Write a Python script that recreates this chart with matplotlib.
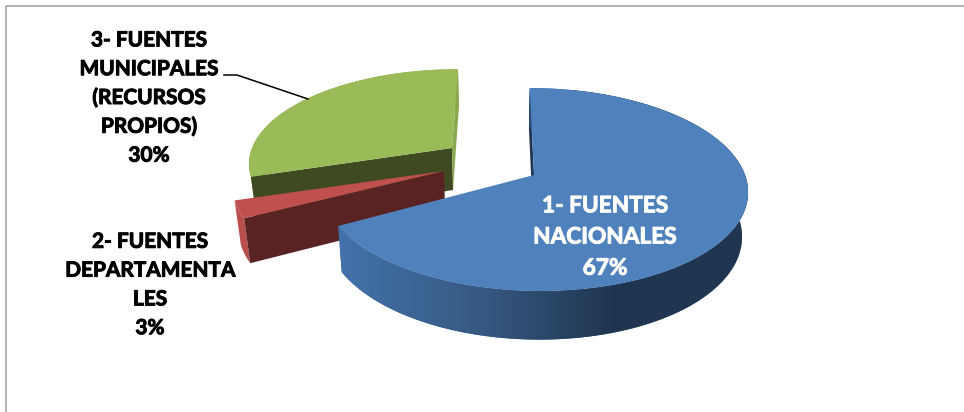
import numpy as np
import matplotlib.pyplot as plt
from matplotlib.colors import LinearSegmentedColormap
from matplotlib.patches import Polygon
import matplotlib.patheffects as pe

names = ["1- FUENTES\nNACIONALES", "2- FUENTES\nDEPARTAMENTA\nLES", "3- FUENTES\nMUNICIPALES\n(RECURSOS\nPROPIOS)"]
values = [67, 3, 30]

# layout of the exploded slices, pixels of the 964x412 image
apex_x = [534, 444, 452]
apex_y = [175, 171, 148]
rad_x = [211, 208, 200]
rad_y = [99.4, 92, 90]
depth = [44, 43, 42]
top_colors = ["#4F81BD", "#C0504D", "#9BBB59"]
wall_colors = ["#3f6ea3", "#b84f4d", "#8aa84f"]
cut_colors = ["#1f3552", "#5a2323", "#3f4a22"]
label_x = [605, 150, 149]
label_y = [237, 285, 98]
label_size = [16.3, 15, 15]
label_color = ["white", "black", "black"]
label_space = [1.6, 1.55, 1.55]

vanish_x = 495
k = 0.143


def rim(i, ang):
    u = np.sin(np.radians(ang))
    v = np.cos(np.radians(ang))
    s = 1 / (1 + k * v)
    x = vanish_x + (apex_x[i] - vanish_x + rad_x[i] * u) * s
    y = apex_y[i] - rad_y[i] * v * s
    return x, y


def lower(i, x, y):
    # same points, one pie thickness further down
    xb = x + 0.024 * (vanish_x - x)
    yb = y + depth[i] + 0.04 * (y - apex_y[i])
    return xb, yb


fig = plt.figure(figsize=(9.64, 4.12), dpi=100)
ax = fig.add_axes([0, 0, 1, 1])
ax.axis("off")

ax.plot([5.5, 5.5, 964], [412, 5.5, 5.5], color="#a3a3a3", lw=1.2)

edges = np.cumsum([0] + values) / sum(values) * 360 + 0.2
order = [2, 1, 0]

for i in order:
    ang = np.linspace(edges[i], edges[i + 1], 200)
    x, y = rim(i, ang)
    xb, yb = lower(i, x, y)
    ax0, ay0 = apex_x[i], apex_y[i]
    bx0, by0 = lower(i, np.array(ax0, dtype=float), np.array(ay0, dtype=float))

    wall = Polygon(np.c_[np.r_[x, xb[::-1]], np.r_[y, yb[::-1]]], closed=True,
                   fc=wall_colors[i], ec="none", zorder=2 + 3 * (2 - i))
    ax.add_patch(wall)
    ax.add_patch(Polygon([[x[0], y[0]], [ax0, ay0], [bx0, by0], [xb[0], yb[0]]],
                         fc=cut_colors[i], ec="none", zorder=wall.get_zorder()))
    if i == 0:
        # the front of the big slice fades to dark
        cmap = LinearSegmentedColormap.from_list("wall", ["#4272a9", "#375a84", "#203650", "#1f3550"])
        grad = np.linspace(0, 1, 256).reshape(1, -1)
        im = ax.imshow(grad, extent=[340, 750, 345, 90], cmap=cmap, aspect="auto", zorder=wall.get_zorder())
        im.set_clip_path(wall)
    if i == 2:
        ax.add_patch(Polygon([[x[-1], y[-1]], [ax0, ay0], [bx0, by0], [xb[-1], yb[-1]]],
                             fc=wall_colors[2], ec="none", zorder=wall.get_zorder()))

    ax.add_patch(Polygon(np.c_[np.r_[ax0, x], np.r_[ay0, y]], closed=True,
                         fc=top_colors[i], ec="none", zorder=3 + 3 * (2 - i)))

# leader line of the green slice
ax.plot([224, 237, 308], [75, 75, 99], color="black", lw=1.1, zorder=12)

for i in range(3):
    t = ax.text(label_x[i], label_y[i], f"{names[i]}\n{values[i]}%", ha="center", va="center",
                family="Lato", weight="bold", fontsize=label_size[i], color=label_color[i],
                linespacing=label_space[i], zorder=15)
    # Lato bold comes out lighter than the original type
    t.set_path_effects([pe.withStroke(linewidth=0.7, foreground=label_color[i])])

ax.set_xlim(0, 964)
ax.set_ylim(412, 0)
fig.savefig("out.png", dpi=100)
